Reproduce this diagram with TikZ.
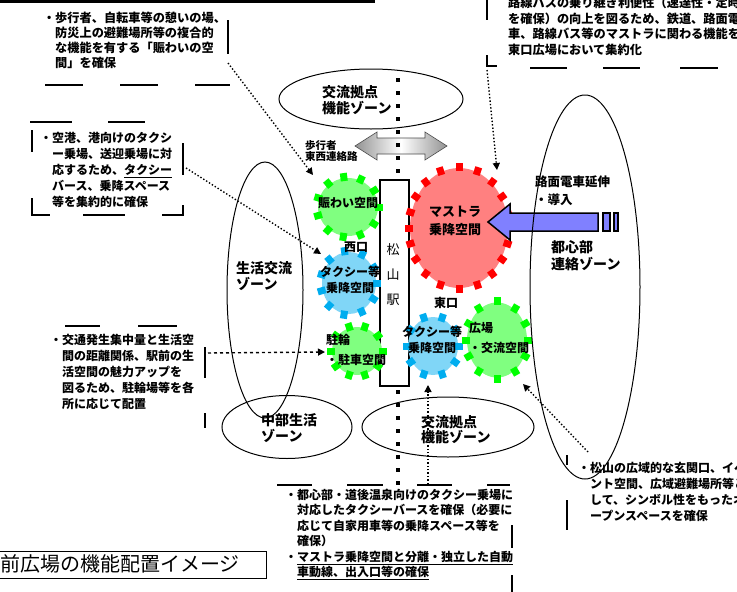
\documentclass[tikz,border=0pt]{standalone}
\usepackage{fontspec}
\setmainfont{Noto Sans CJK JP}
\usetikzlibrary{arrows.meta,shapes.geometric,calc}
\newcommand{\gearspikes}[3]{\foreach \k in {1,...,#3}{\pgfmathtruncatemacro{\gAng}{360*\k/#3}\fill[#2, shift={(#1.\gAng)}, rotate=\gAng] (-3,-3.5) rectangle (5,3.5);}}
\begin{document}
\begin{tikzpicture}[x=1pt,y=-1pt,
  zone/.style={draw=black, line width=1pt, ellipse, inner sep=0pt},
  zonetext/.style={anchor=west, align=left, inner sep=0pt, font=\bfseries\fontsize{14}{16}\selectfont},
  note/.style={anchor=north west, align=left, inner sep=0pt, font=\bfseries\fontsize{12}{15.5}\selectfont},
  framedash/.style={line width=1.3pt},
  conn/.style={dotted, line width=1.4pt, -{Triangle[length=7pt,width=7pt]}},
  gearbody/.style={ellipse, inner sep=0pt},
  gearlabel/.style={align=center, inner sep=0pt, font=\bfseries\fontsize{12}{16}\selectfont},
]
\useasboundingbox (0,0) rectangle (737,592);
\fill[white] (0,0) rectangle (737,592);

% top black rule
\draw[line width=3pt] (0,1) -- (375,1);

% zones
\node[zone, minimum width=184pt, minimum height=60pt] (zTop) at (371,99) {};
\node[zone, minimum width=76pt, minimum height=256pt] (zLeft) at (265,290) {};
\node[zone, minimum width=130pt, minimum height=63pt] (zBL) at (287,427) {};
\node[zone, minimum width=172pt, minimum height=60pt] (zBC) at (448,427) {};

\node[zonetext] (tTop) at (322,100) {交流拠点\\機能ゾーン};
\node[zonetext] (tLeft) at (236,276) {生活交流\\ゾーン};
\node[zonetext] (tBL) at (261,428) {中部生活\\ゾーン};
\node[zonetext, font=\bfseries\fontsize{14}{15}\selectfont] (tBC) at (421,430) {交流拠点\\機能ゾーン};
\node[zonetext, font=\bfseries\fontsize{14}{17}\selectfont] (tRight) at (551,256) {都心部\\連絡ゾーン};
\node[zonetext, font=\bfseries\fontsize{12.5}{18}\selectfont] (tRoute) at (535,191) {路面電車延伸\\・導入};

% note frames
\draw[framedash] (228,20) -- (228,54);
\draw[framedash] (45,85) -- (83,85) (120,85) -- (158,85) (195,85) -- (230,85);
\draw[framedash] (487,0) -- (487,20) (487,55) -- (487,66) -- (497,66);
\draw[framedash] (530,68) -- (567,68) (603,68) -- (640,68) (680,68) -- (718,68);
\draw[framedash] (30,122) -- (72,122) (108,122) -- (145,122);
\draw[framedash] (32,130) -- (32,152) (32,198) -- (32,215) -- (50,215);
\draw[framedash] (83,215) -- (125,215) (162,215) -- (183,215) -- (183,205) (183,143) -- (183,175);
\draw[framedash] (65,326) -- (100,326) (138,326) -- (177,326);
\draw[framedash] (205,347) -- (205,378) (205,413) -- (205,428);
\draw[framedash] (277,485) -- (312,485) (347,485) -- (383,485) (417,485) -- (452,485) (487,485) -- (510,485);
\draw[framedash] (512,525) -- (512,548) (512,575) -- (512,592);
\draw[framedash] (567,455) -- (567,465) (567,500) -- (567,530);

% notes
\node[note, font=\bfseries\fontsize{12.2}{15}\selectfont] (nTL) at (55,12) {\llap{・}歩行者、自転車等の憩いの場、\\防災上の避難場所等の複合的\\な機能を有する「賑わいの空\\間」を確保};
\node[note, font=\bfseries\fontsize{12.2}{15.5}\selectfont] (nTR) at (508,-3) {路線バスの乗り継ぎ利便性（速達性・定時性\\を確保）の向上を図るため、鉄道、路面電\\車、路線バス等のマストラに関わる機能を\\東口広場において集約化};
\node[note, font=\bfseries\fontsize{12}{16}\selectfont] (nLM) at (52,132) {\llap{・}空港、港向けのタクシ\\ー乗場、送迎乗場に対\\応するため、\underline{タクシー}\\バース、乗降スペース\\等を集約的に確保};
\node[note, font=\bfseries\fontsize{12}{16}\selectfont] (nLL) at (62,334) {\llap{・}交通発生集中量と生活空\\間の距離関係、駅前の生\\活空間の魅力アップを\\図るため、駐輪場等を各\\所に応じて配置};
\node[note, font=\bfseries\fontsize{12}{15.4}\selectfont] (nBC) at (297,489) {\llap{・}都心部・道後温泉向けのタクシー乗場に\\対応したタクシーバースを確保（必要に\\応じて自家用車等の乗降スペース等を\\確保）\\\llap{・}\underline{マストラ乗降空間と分離・独立した自動}\\\underline{車動線、出入口等の確保}};
\node[note, font=\bfseries\fontsize{12}{16}\selectfont] (nBR) at (590,462) {\llap{・}松山の広域的な玄関口、イベ\\ント空間、広域避難場所等と\\して、シンボル性をもったオ\\ープンスペースを確保};

% title
\draw[line width=1pt] (-40,551) rectangle (266,578);
\node[anchor=west, inner sep=0pt, font=\fontsize{20}{20}\selectfont] (title) at (-20,564) {駅前広場の機能配置イメージ};

% gray double arrow
\shade[left color=gray!85, right color=gray!85, middle color=white, draw=gray!60!black, line width=0.6pt]
  (355,146) -- (377,132) -- (377,138) -- (425,138) -- (425,132) -- (447,146) -- (425,160) -- (425,154) -- (377,154) -- (377,160) -- cycle;
\node[anchor=west, align=left, inner sep=0pt, font=\bfseries\fontsize{10.5}{11}\selectfont] (tWalk) at (305,151) {歩行者\\東西連絡路};

% thick dotted axis
\coordinate (dl1) at (398,78);
\coordinate (dl2) at (398,485);
\draw[line width=4pt, dash pattern=on 4pt off 9pt] (dl1) -- (dl2);

% station
\node[draw, line width=1.2pt, fill=white, minimum width=29pt, minimum height=206pt, inner sep=0pt] (eki) at (394.5,283) {};

% gears
\node[gearbody, fill=green!50, minimum width=60pt, minimum height=58pt] (gA) at (348,207) {};
\node[gearbody, fill=cyan!50, minimum width=54pt, minimum height=62pt] (gB) at (349,283) {};
\node[gearbody, fill=green!50, minimum width=50pt, minimum height=48pt] (gC) at (357,351) {};
\node[gearbody, fill=cyan!50, minimum width=50pt, minimum height=58pt] (gD) at (433,346) {};
\node[gearbody, fill=green!50, minimum width=60pt, minimum height=75pt] (gE) at (497,340) {};
\node[gearbody, fill=red!50, minimum width=98pt, minimum height=120pt] (gM) at (459,228) {};
\gearspikes{gA}{green}{11}
\gearspikes{gB}{cyan}{11}
\gearspikes{gC}{green}{10}
\gearspikes{gD}{cyan}{10}
\gearspikes{gE}{green}{12}
\gearspikes{gM}{red}{20}

\node[gearlabel] (lA) at (348,203) {賑わい空間};
\node[gearlabel] (lWest) at (356,247) {西口};
\node[gearlabel] (lB) at (350,280) {タクシー等\\乗降空間};
\node[gearlabel, anchor=west, align=left, font=\bfseries\fontsize{12}{20}\selectfont] (lC) at (326,350) {駐輪\\・駐車空間};
\node[gearlabel] (lEast) at (446,303) {東口};
\node[gearlabel] (lD) at (432,340) {タクシー等\\乗降空間};
\node[gearlabel, anchor=west, align=left, font=\bfseries\fontsize{12}{20}\selectfont] (lE) at (469,338) {広場\\・交流空間};
\node[gearlabel, font=\bfseries\fontsize{13}{18}\selectfont] (lM) at (455,221) {マストラ\\乗降空間};

% station name
\node[align=center, inner sep=0pt, font=\fontsize{13}{25}\selectfont] (ekiName) at (393,275) {松\\山\\駅};

% blue arrow
\filldraw[fill=blue!50, draw=black, line width=1.5pt]
  (488,222) -- (510,204) -- (510,213) -- (598,213) -- (598,231) -- (510,231) -- (510,240) -- cycle;
\filldraw[fill=blue!50, draw=black, line width=1.2pt] (603,213) rectangle (610,231) (614,213) rectangle (618,231);

\node[zone, minimum width=110pt, minimum height=384pt] (zRight) at (585,287) {};

% connectors
\coordinate (a1) at (228,63);  \coordinate (b1) at (313,175);
\coordinate (a2) at (487,70);  \coordinate (b2) at (497,170);
\coordinate (a3) at (186,168); \coordinate (b3) at (321,254);
\coordinate (a4) at (208,353); \coordinate (b4) at (325,352);
\coordinate (a5) at (428,484); \coordinate (b5) at (428,385);
\coordinate (a6) at (588,452); \coordinate (b6) at (523,384);
\draw[conn] (a1) -- (b1);
\draw[conn] (a2) -- (b2);
\draw[conn] (a3) -- (b3);
\draw[conn, dashed] (a4) -- (b4);
\draw[conn] (a5) -- (b5);
\draw[conn] (a6) -- (b6);
\end{tikzpicture}
\end{document}
